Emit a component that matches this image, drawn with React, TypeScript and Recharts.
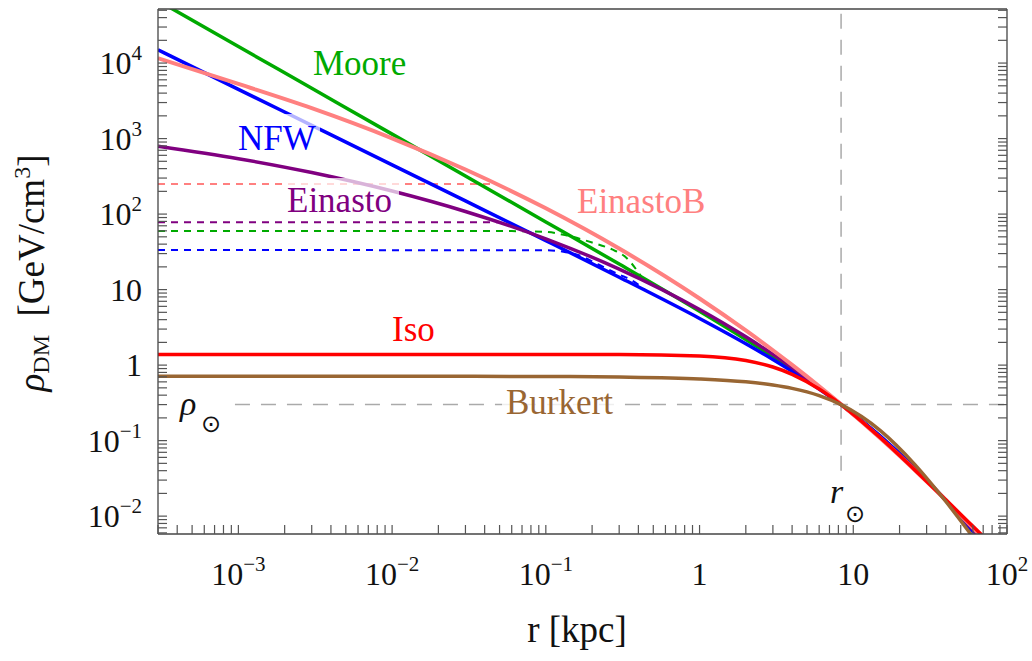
import React from 'react';
import { ComposedChart, Line, XAxis, YAxis, ReferenceLine } from 'recharts';

// radius grid [kpc] and profile densities [GeV/cm^3]
const rGrid = [3e-4, 1e-3, 3e-3, 1e-2, 3e-2, 0.1, 0.3, 1, 2, 3, 4, 6, 8.33, 15, 25, 40, 60, 100];
const mooreRho = [66970, 16570, 4632, 1146, 319.9, 78.8, 21.8, 5.17, 2.18, 1.29, 0.875, 0.492, 0.3, 0.1131, 0.0433, 0.01615, 0.00636, 0.00179];
const nfwRho = [14980, 4490, 1497, 449, 149.4, 44.6, 14.6, 4.15, 1.92, 1.188, 0.829, 0.483, 0.3, 0.115, 0.0439, 0.0161, 0.00627, 0.00173];
const einastoRho = [794, 542, 355, 202, 108.3, 47.1, 18.7, 5.45, 2.37, 1.387, 0.928, 0.508, 0.303, 0.111, 0.0426, 0.01635, 0.00672, 0.002];
const einastoBRho = [11600, 5290, 2528, 1009, 389, 119.3, 35.0, 7.63, 2.88, 1.573, 1.007, 0.524, 0.3025, 0.1072, 0.0412, 0.01627, 0.00702, 0.0023];
const isoRho = [1.387, 1.387, 1.387, 1.387, 1.387, 1.386, 1.381, 1.318, 1.148, 0.944, 0.756, 0.482, 0.3, 0.109, 0.0413, 0.01643, 0.00735, 0.00266];
const burkertRho = [0.712, 0.712, 0.712, 0.7114, 0.7103, 0.7064, 0.695, 0.656, 0.6, 0.545, 0.492, 0.395, 0.3, 0.1358, 0.0489, 0.01562, 0.0053, 0.00127];

// dashed (smoothed-core) versions
const einastoBDashR = [3e-4, 0.048];
const einastoBDashRho = [250, 250];
const einastoDashR = [3e-4, 0.05];
const einastoDashRho = [78, 78];
const mooreDashR = [3e-4, 0.06, 0.1, 0.14, 0.2, 0.27, 0.33, 0.42];
const mooreDashRho = [59.5, 59.5, 58, 51.5, 42, 34, 27, 14.6];
const nfwDashR = [3e-4, 0.1, 0.13, 0.16, 0.22, 0.3, 0.36, 0.45];
const nfwDashRho = [33.4, 33.2, 31.8, 29, 21.5, 15.8, 13.4, 9.63];

const rSun = 8.33;
const rhoSun = 0.3;

// tick labels
const xLabelTicks = [1e-3, 1e-2, 1e-1, 1, 10, 100];
const xLabelBase = ['10', '10', '10', '1', '10', '10'];
const xLabelExp = ['\u22123', '\u22122', '\u22121', '', '', '2'];
const yLabelTicks = [1e-2, 1e-1, 1, 10, 100, 1e3, 1e4];
const yLabelBase = ['10', '10', '1', '10', '10', '10', '10'];
const yLabelExp = ['\u22122', '\u22121', '', '', '2', '3', '4'];
const tickMultipliers = [1, 2, 3, 4, 5, 6, 7, 8, 9];
const xDecades = [1e-4, 1e-3, 1e-2, 1e-1, 1, 10, 100];
const yDecades = [1e-3, 1e-2, 1e-1, 1, 10, 100, 1e3, 1e4];
// top frame: r = r_sun sin(theta) for 10", 30", 1', 5', 10', 30', 1, 2, 5, 10, 20, 45 deg
const topTicks = [4.04e-4, 1.212e-3, 2.423e-3, 0.01212, 0.02423, 0.0727, 0.1454, 0.2907, 0.726, 1.4465, 2.849, 5.89];

const xDomain: [number, number] = [3e-4, 100];
const yDomain: [number, number] = [5.8e-3, 5.2e4];

const serif = '"Liberation Serif", "DejaVu Serif", serif';
const tickColor = '#555';
const frameColor = '#444';

const rows = (rs: number[], rhos: number[]) => rs.map((r, i) => ({ r, rho: rhos[i] }));
const logTicks = (decades: number[], lo: number, hi: number) =>
    decades.flatMap(d => tickMultipliers.map(m => m * d)).filter(v => v >= lo * 0.999 && v <= hi * 1.001);
const labelIndex = (v: number, list: number[]) => list.findIndex(t => Math.abs(Math.log10(v / t)) < 1e-6);

const xTicks = logTicks(xDecades, xDomain[0], xDomain[1]);
const yTicks = logTicks(yDecades, yDomain[0], yDomain[1]);

const BottomTick = (props: any) => {
    const { x, y, payload } = props;
    const i = labelIndex(payload.value, xLabelTicks);
    return (
        <g>
            <line x1={x} y1={y} x2={x} y2={y - 9} stroke={tickColor} strokeWidth={1.2} />
            {i >= 0 && (
                <text x={x} y={y + 51} textAnchor="middle" fontFamily={serif} fontSize={32} fill="#111">
                    {xLabelBase[i]}
                    {xLabelExp[i] && <tspan dy={-14} fontSize={21}>{xLabelExp[i]}</tspan>}
                </text>
            )}
        </g>
    );
};

const TopTick = (props: any) => {
    const { x, y } = props;
    return <line x1={x} y1={y} x2={x} y2={y + 10} stroke={tickColor} strokeWidth={1.2} />;
};

const LeftTick = (props: any) => {
    const { x, y, payload } = props;
    const i = labelIndex(payload.value, yLabelTicks);
    return (
        <g>
            <line x1={x} y1={y} x2={x + 9} y2={y} stroke={tickColor} strokeWidth={1.2} />
            {i >= 0 && (
                <text x={x - 16} y={y + 11} textAnchor="end" fontFamily={serif} fontSize={32} fill="#111">
                    {yLabelBase[i]}
                    {yLabelExp[i] && <tspan dy={-14} fontSize={21}>{yLabelExp[i]}</tspan>}
                </text>
            )}
        </g>
    );
};

const RightTick = (props: any) => {
    const { x, y } = props;
    return <line x1={x} y1={y} x2={x - 9} y2={y} stroke={tickColor} strokeWidth={1.2} />;
};

const solid = { type: 'monotone' as const, dot: false, isAnimationActive: false, dataKey: 'rho', strokeWidth: 3.5 };
const dashed = { ...solid, strokeWidth: 2, strokeDasharray: '7 6' };

export default function App() {
    return (
        <div style={{ position: 'absolute', left: 0, top: 0, width: 1032, height: 661, background: '#fff' }}>
            <ComposedChart width={1032} height={661} margin={{ top: 0, right: 0, bottom: 0, left: 0 }}>
                <XAxis
                    xAxisId={0}
                    dataKey="r"
                    type="number"
                    scale="log"
                    domain={xDomain}
                    allowDataOverflow
                    ticks={xTicks}
                    interval={0}
                    tick={<BottomTick />}
                    tickLine={false}
                    tickSize={0}
                    tickMargin={0}
                    height={127}
                    axisLine={{ stroke: frameColor, strokeWidth: 1.3 }}
                />
                <XAxis
                    xAxisId="top"
                    orientation="top"
                    type="number"
                    scale="log"
                    domain={xDomain}
                    allowDataOverflow
                    ticks={topTicks}
                    interval={0}
                    tick={<TopTick />}
                    tickLine={false}
                    tickSize={0}
                    tickMargin={0}
                    height={9}
                    axisLine={{ stroke: frameColor, strokeWidth: 1.3 }}
                />
                <YAxis
                    yAxisId={0}
                    type="number"
                    scale="log"
                    domain={yDomain}
                    allowDataOverflow
                    ticks={yTicks}
                    interval={0}
                    tick={<LeftTick />}
                    tickLine={false}
                    tickSize={0}
                    tickMargin={0}
                    width={158}
                    axisLine={{ stroke: frameColor, strokeWidth: 1.3 }}
                />
                <YAxis
                    yAxisId="right"
                    orientation="right"
                    type="number"
                    scale="log"
                    domain={yDomain}
                    allowDataOverflow
                    ticks={yTicks}
                    interval={0}
                    tick={<RightTick />}
                    tickLine={false}
                    tickSize={0}
                    tickMargin={0}
                    width={25}
                    axisLine={{ stroke: frameColor, strokeWidth: 1.3 }}
                />
                <ReferenceLine segment={[{ x: 9.5e-4, y: rhoSun }, { x: 100, y: rhoSun }]} stroke="#aaa" strokeWidth={1.5} strokeDasharray="15 11" />
                <ReferenceLine segment={[{ x: rSun, y: 0.04 }, { x: rSun, y: yDomain[1] }]} stroke="#aaa" strokeWidth={1.5} strokeDasharray="15 11" />

                <Line {...dashed} data={rows(einastoBDashR, einastoBDashRho)} stroke="#ff8080" />
                <Line {...dashed} data={rows(einastoDashR, einastoDashRho)} stroke="#800080" />
                <Line {...dashed} data={rows(mooreDashR, mooreDashRho)} stroke="#00aa00" />
                <Line {...dashed} data={rows(nfwDashR, nfwDashRho)} stroke="#0000ff" />

                <Line {...solid} data={rows(rGrid, mooreRho)} stroke="#00aa00" />
                <Line {...solid} data={rows(rGrid, nfwRho)} stroke="#0000ff" />
                <Line {...solid} data={rows(rGrid, einastoRho)} stroke="#800080" />
                <Line {...solid} data={rows(rGrid, einastoBRho)} stroke="#ff8080" strokeWidth={4} />
                <Line {...solid} data={rows(rGrid, isoRho)} stroke="#ff0000" />
                <Line {...solid} data={rows(rGrid, burkertRho)} stroke="#996633" />
            </ComposedChart>

            <svg width={1032} height={661} style={{ position: 'absolute', left: 0, top: 0, pointerEvents: 'none' }} fontFamily={serif}>
                <rect x={234} y={114} width={86} height={42} fill="#fff" fillOpacity={0.7} />
                <rect x={283} y={178} width={116} height={42} fill="#fff" fillOpacity={0.7} />
                <rect x={502} y={386} width={114} height={34} fill="#fff" fillOpacity={0.8} />

                <text x={313} y={75} fontSize={35} fill="#00aa00">Moore</text>
                <text x={238} y={150} fontSize={35} fill="#0000ff">NFW</text>
                <text x={287} y={212} fontSize={35} fill="#800080">Einasto</text>
                <text x={577} y={213} fontSize={35} fill="#ff8080">EinastoB</text>
                <text x={392} y={341} fontSize={35} fill="#ff0000">Iso</text>
                <text x={506} y={414} fontSize={35} fill="#996633">Burkert</text>

                <text x={180} y={415} fontSize={34} fontStyle="italic" fill="#111">ρ</text>
                <text x={201} y={432} fontSize={24} fontFamily='"DejaVu Sans", sans-serif' fill="#111">⊙</text>
                <text x={830} y={503} fontSize={34} fontStyle="italic" fill="#111">r</text>
                <text x={845} y={522} fontSize={24} fontFamily='"DejaVu Sans", sans-serif' fill="#111">⊙</text>

                <text x={577} y={642} fontSize={37} textAnchor="middle" fill="#111">r [kpc]</text>
                <text x={44} y={273} fontSize={37} textAnchor="middle" fill="#111" transform="rotate(-90 44 273)">
                    <tspan fontStyle="italic">ρ</tspan>
                    <tspan fontSize={24} dy={5}>DM</tspan>
                    <tspan dy={-5}>{'\u00a0\u00a0[GeV/cm'}</tspan>
                    <tspan fontSize={24} dy={-14}>3</tspan>
                    <tspan dy={14}>]</tspan>
                </text>
            </svg>
        </div>
    );
}
